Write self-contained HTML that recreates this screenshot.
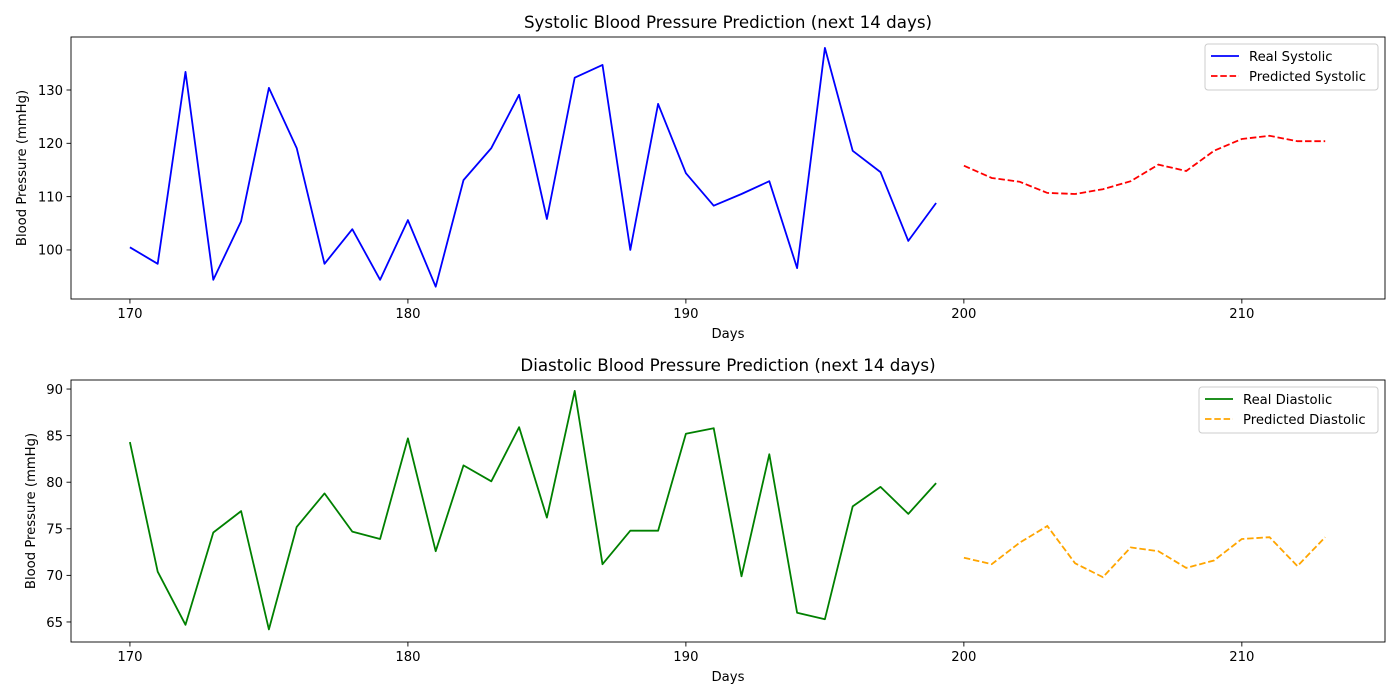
<!DOCTYPE html>
<html><head><meta charset="utf-8">
<style>
body{margin:0;background:#fff;}
svg{display:block;font-family:"DejaVu Sans","Liberation Sans",sans-serif;}
</style></head>
<body>
<svg id="chart" width="1400" height="700" viewBox="0 0 1400 700"></svg>
<script>
const days = [170,171,172,173,174,175,176,177,178,179,180,181,182,183,184,185,186,187,188,189,190,191,192,193,194,195,196,197,198,199];
const predDays = [200,201,202,203,204,205,206,207,208,209,210,211,212,213];
const realSys = [100.5,97.4,133.4,94.4,105.4,130.4,119.1,97.4,103.9,94.4,105.6,93.1,113.1,119.1,129.1,105.8,132.3,134.7,100,127.4,114.4,108.3,110.5,112.9,96.6,137.9,118.6,114.6,101.7,108.8];
const predSys = [115.8,113.5,112.8,110.7,110.5,111.4,112.9,116,114.8,118.6,120.8,121.4,120.4,120.4];
const realDia = [84.3,70.4,64.7,74.6,76.9,64.2,75.2,78.8,74.7,73.9,84.7,72.6,81.8,80.1,85.9,76.2,89.8,71.2,74.8,74.8,85.2,85.8,69.9,83,66,65.3,77.4,79.5,76.6,79.9];
const predDia = [71.9,71.2,73.5,75.3,71.3,69.8,73,72.6,70.8,71.6,73.9,74.1,71,74.1];
const xTicks = [170,180,190,200,210];
const sysTicks = [100,110,120,130];
const diaTicks = [65,70,75,80,85,90];

const NS="http://www.w3.org/2000/svg";
const svg=document.getElementById('chart');
function mk(tag,attrs,parent){const e=document.createElementNS(NS,tag);for(const k in attrs)e.setAttribute(k,attrs[k]);(parent||svg).appendChild(e);return e;}

function panel(cfg){
  const g=mk('g',{});
  
  
  const L=71,R=1385,T=cfg.top,B=cfg.top+262;
  const xmin=167.88,xmax=215.15;
  const X=v=>L+(v-xmin)/(xmax-xmin)*(R-L);
  const Y=v=>B-(v-cfg.ymin)/(cfg.ymax-cfg.ymin)*(B-T);
  const t=mk('text',{x:(L+R)/2,y:T-9,'text-anchor':'middle','font-size':16.7,fill:'#000'},g);
  t.textContent=cfg.title;
  
  
  xTicks.forEach(v=>{
    mk('line',{x1:X(v),x2:X(v),y1:B,y2:B+4.5,stroke:'#000','stroke-width':0.9},g);
    const tx=mk('text',{x:X(v),y:B+19,'text-anchor':'middle','font-size':13.2,fill:'#000'},g);
    tx.textContent=v;
    
    
  });
  cfg.yticks.forEach(v=>{
    mk('line',{x1:L-4.5,x2:L,y1:Y(v),y2:Y(v),stroke:'#000','stroke-width':0.9},g);
    const ty=mk('text',{x:L-8,y:Y(v)+4.8,'text-anchor':'end','font-size':13.2,fill:'#000'},g);
    ty.textContent=v;
    
    
  });
  const xl=mk('text',{x:(L+R)/2,y:B+39,'text-anchor':'middle','font-size':13.2,fill:'#000'},g);
  xl.textContent='Days';
  
  
  const yl=mk('text',{x:0,y:0,'text-anchor':'middle','font-size':13.2,fill:'#000',transform:`translate(${cfg.ylabX},${(T+B)/2}) rotate(-90)`},g);
  yl.textContent='Blood Pressure (mmHg)';
  
  
  const pts=(xs,ys)=>xs.map((d,i)=>X(d).toFixed(1)+','+Y(ys[i]).toFixed(1)).join(' ');
  const r=mk('polyline',{points:pts(days,cfg.real),fill:'none',stroke:cfg.rc,'stroke-width':1.8,'stroke-linejoin':'round'},g);
  
  
  const p=mk('polyline',{points:pts(predDays,cfg.pred),fill:'none',stroke:cfg.pc,'stroke-width':1.8,'stroke-dasharray':'6.5,2.8'},g);
  
  
  mk('rect',{x:L,y:T,width:R-L,height:B-T,fill:'none',stroke:'#000','stroke-width':0.9},g);
  const lg=mk('g',{},g);
  
  
  const lx=cfg.legX,ly=T+7,lw=R-7-cfg.legX;
  mk('rect',{x:lx,y:ly,width:lw,height:46,rx:3,fill:'#fff','fill-opacity':0.8,stroke:'#ccc','stroke-width':1},lg);
  [[cfg.realLab,cfg.rc,null],[cfg.predLab,cfg.pc,'6.5,2.8']].forEach((e,i)=>{
    const yy=ly+12+i*20;
    const ln=mk('line',{x1:lx+6,x2:lx+34,y1:yy,y2:yy,stroke:e[1],'stroke-width':1.8},lg);
    if(e[2])ln.setAttribute('stroke-dasharray',e[2]);
    const tt=mk('text',{x:lx+44,y:yy+4.8,'font-size':13.2,fill:'#000'},lg);
    tt.textContent=e[0];
    
    
  });
}
panel({name:'systolic-panel',top:37,ymin:90.8,ymax:139.94,yticks:sysTicks,title:'Systolic Blood Pressure Prediction (next 14 days)',real:realSys,pred:predSys,rc:'#0000ff',pc:'#ff0000',realLab:'Real Systolic',predLab:'Predicted Systolic',legX:1205,ylabX:26});
panel({name:'diastolic-panel',top:380,ymin:62.85,ymax:90.97,yticks:diaTicks,title:'Diastolic Blood Pressure Prediction (next 14 days)',real:realDia,pred:predDia,rc:'#008000',pc:'#ffa500',realLab:'Real Diastolic',predLab:'Predicted Diastolic',legX:1199,ylabX:35});
</script>
</body></html>
